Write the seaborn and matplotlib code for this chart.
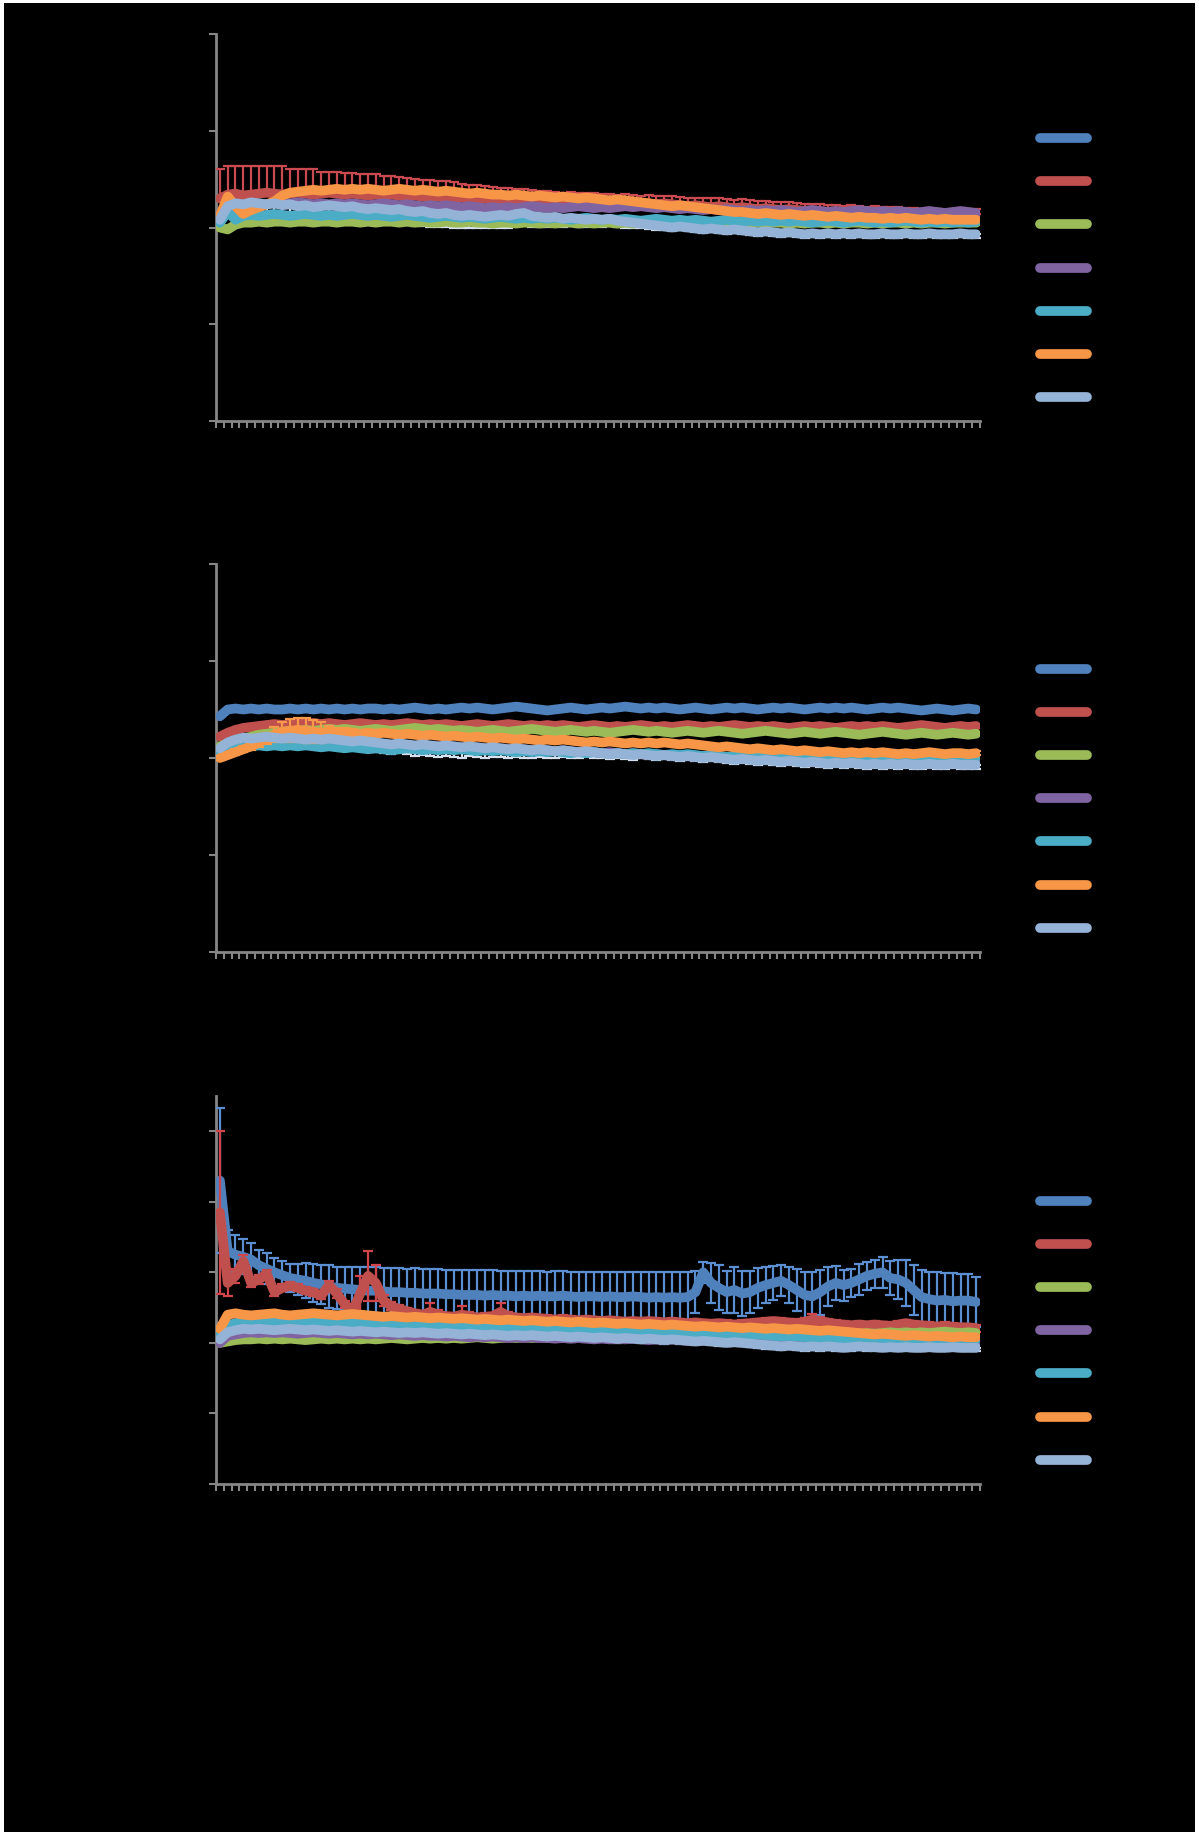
import matplotlib
matplotlib.use('Agg')
import matplotlib.pyplot as plt
from matplotlib.patches import Rectangle
import numpy as np
import seaborn as sns

# values are in hundredths of a y unit
names = ['Series1', 'Series2', 'Series3', 'Series4', 'Series5', 'Series6', 'Series7']
colors = ['#4F81BD', '#C0504D', '#9BBB59', '#8064A2', '#4BACC6', '#F79646', '#95B3D7']

# ---- panel 1 ----
p1_blue = [None] * 98
p1_red = [30, 34, 35, 33, 34, 35, 36, 35, 34, 35, 36, 35, 34, 35,
          36, 35, 34, 35, 34, 33, 34, 33, 34, 33, 32, 33, 32, 31,
          32, 31, 30, 31, 30, 29, 30, 29, 28, 29, 28, 29, 28, 27,
          28, 27, 26, 27, 26, 27, 26, 25, 26, 25, 26, 25, 24, 25,
          24, 25, 24, 23, 22, 23, 22, 21, 22, 21, 20, 21, 20, 19,
          20, 19, 18, 19, 18, 17, 18, 17, 16, 17, 16, 17, 16, 15,
          16, 15, 16, 15, 14, 15, 14, 15, 14, 13, 14, 15, 14, 14]
p1_green = [0, -2, 3, 5, 5, 6, 5, 6, 6, 5, 6, 6, 5, 6,
            6, 5, 6, 6, 5, 6, 5, 6, 6, 5, 6, 5, 6, 5,
            5, 6, 5, 5, 6, 5, 5, 4, 5, 5, 4, 5, 5, 4,
            5, 4, 5, 5, 4, 5, 4, 5, 5, 4, 5, 4, 5, 4,
            5, 5, 4, 5, 4, 5, 5, 4, 5, 4, 5, 5, 4, 5,
            4, 5, 5, 4, 5, 4, 5, 5, 4, 5, 4, 5, 5, 4,
            5, 4, 5, 5, 4, 5, 4, 5, 5, 4, 5, 5, 5, 5]
p1_purple = [14, 18, 20, 22, 23, 24, 24, 25, 24, 25, 26, 25, 24, 25,
             24, 25, 24, 25, 24, 23, 24, 25, 24, 23, 24, 23, 22, 23,
             22, 23, 22, 21, 22, 21, 20, 21, 20, 21, 20, 21, 22, 21,
             20, 21, 20, 21, 22, 21, 20, 21, 20, 21, 22, 21, 22, 21,
             20, 21, 20, 19, 20, 19, 18, 19, 18, 19, 18, 17, 18, 17,
             18, 17, 18, 17, 16, 17, 18, 17, 16, 17, 16, 17, 18, 17,
             16, 17, 16, 17, 16, 15, 16, 17, 16, 15, 16, 17, 16, 15]
p1_teal = [5, 16, 8, 12, 13, 12, 13, 14, 13, 12, 13, 14, 13, 12,
           13, 12, 13, 14, 13, 12, 13, 12, 11, 12, 13, 12, 11, 10,
           11, 12, 11, 10, 11, 10, 9, 10, 11, 10, 9, 10, 9, 10,
           9, 10, 9, 8, 9, 10, 9, 8, 9, 8, 9, 8, 7, 8,
           9, 8, 7, 8, 7, 8, 7, 6, 7, 8, 7, 6, 7, 6,
           7, 6, 7, 6, 7, 6, 5, 6, 7, 6, 5, 6, 7, 6,
           5, 6, 5, 6, 7, 6, 5, 6, 5, 6, 5, 6, 5, 6]
p1_orange = [12, 32, 22, 14, 18, 21, 24, 27, 33, 36, 37, 38, 39, 38,
             39, 40, 39, 40, 39, 40, 39, 38, 39, 40, 39, 38, 39, 38,
             37, 38, 37, 36, 35, 36, 35, 34, 34, 33, 34, 33, 32, 33,
             32, 31, 32, 31, 30, 31, 30, 29, 28, 29, 28, 27, 26, 25,
             24, 23, 22, 23, 22, 21, 20, 19, 18, 17, 16, 16, 15, 14,
             15, 14, 13, 14, 13, 12, 13, 12, 11, 12, 11, 10, 11, 10,
             10, 9, 10, 9, 10, 9, 8, 9, 8, 9, 8, 8, 8, 8]
p1_lightblue = [8, 22, 25, 24, 26, 25, 24, 25, 23, 24, 22, 23, 21, 22,
                23, 22, 21, 22, 20, 19, 20, 19, 18, 19, 17, 16, 17, 15,
                14, 15, 13, 12, 13, 12, 11, 12, 13, 12, 14, 15, 12, 11,
                10, 11, 9, 10, 9, 8, 9, 8, 9, 7, 6, 5, 4, 3,
                2, 1, 0, 1, 0, -1, -2, -1, -2, -3, -2, -3, -4, -5,
                -4, -5, -6, -5, -6, -7, -6, -7, -6, -7, -6, -7, -6, -7,
                -7, -6, -7, -7, -6, -7, -7, -6, -7, -7, -7, -6, -7, -7]
p1_red_err = [30, 30, 29, 31, 30, 29, 28, 29, 30, 25, 24, 25, 26, 22,
              21, 22, 22, 21, 21, 22, 21, 20, 19, 19, 19, 17, 17, 18,
              16, 17, 17, 14, 14, 15, 13, 13, 13, 12, 12, 11, 11, 11,
              10, 10, 10, 10, 10, 9, 10, 10, 9, 9, 9, 9, 9, 9,
              9, 8, 9, 9, 9, 8, 8, 9, 8, 8, 8, 8, 8, 8,
              7, 7, 8, 7, 7, 7, 6, 7, 7, 6, 6, 6, 6, 6,
              6, 6, 5, 6, 6, 5, 5, 5, 5, 5, 5, 5, 5, 5]
p1_lightblue_err = [4, 6, 6, 7, 7, 8, 8, 8, 9, 9, 9, 10, 10, 10,
                    11, 11, 11, 12, 12, 12, 13, 13, 14, 15, 14, 14, 15, 14,
                    13, 14, 13, 12, 13, 12, 11, 12, 13, 12, 12, 12, 11, 10,
                    9, 9, 8, 8, 8, 7, 7, 7, 7, 6, 6, 5, 5, 5,
                    5, 4, 4, 4, 4, 4, 4, 4, 4, 4, 4, 4, 4, 4,
                    4, 4, 4, 4, 4, 4, 4, 4, 4, 4, 4, 4, 4, 4,
                    4, 4, 4, 4, 4, 4, 4, 4, 4, 4, 4, 4, 4, 4]

# ---- panel 2 ----
p2_blue = [43, 50, 51, 50, 51, 50, 51, 50, 50, 51, 50, 51, 50, 51,
           50, 51, 50, 51, 50, 51, 51, 50, 51, 50, 51, 52, 51, 50,
           51, 50, 51, 52, 51, 52, 51, 50, 51, 52, 53, 52, 51, 50,
           49, 50, 51, 52, 51, 50, 51, 52, 51, 52, 53, 52, 51, 52,
           51, 52, 51, 50, 51, 52, 51, 50, 51, 52, 51, 52, 51, 50,
           51, 52, 51, 52, 51, 50, 51, 52, 51, 52, 51, 52, 51, 50,
           51, 52, 51, 52, 51, 50, 49, 50, 51, 50, 49, 50, 51, 50]
p2_red = [22, 26, 29, 31, 32, 33, 34, 35, 34, 35, 36, 35, 36, 35,
          36, 35, 34, 35, 36, 35, 34, 35, 34, 35, 36, 35, 34, 35,
          34, 35, 34, 33, 34, 35, 34, 33, 34, 35, 34, 33, 34, 33,
          34, 33, 34, 33, 32, 33, 34, 33, 32, 33, 32, 33, 34, 33,
          32, 33, 32, 33, 34, 33, 32, 33, 32, 33, 34, 33, 32, 33,
          32, 33, 32, 31, 32, 33, 32, 33, 32, 31, 32, 33, 32, 33,
          32, 33, 32, 31, 32, 33, 34, 33, 32, 31, 32, 33, 32, 33]
p2_green = [12, 15, 18, 20, 22, 24, 25, 26, 27, 28, 28, 29, 28, 29,
            30, 29, 30, 29, 28, 29, 30, 29, 28, 29, 30, 31, 30, 29,
            30, 29, 28, 29, 28, 27, 28, 29, 28, 27, 28, 29, 30, 29,
            28, 27, 28, 29, 28, 27, 28, 27, 26, 27, 28, 29, 28, 27,
            28, 27, 26, 27, 28, 27, 26, 27, 28, 27, 26, 25, 26, 27,
            28, 27, 26, 25, 26, 27, 26, 25, 26, 27, 26, 25, 24, 25,
            26, 27, 26, 25, 24, 25, 26, 25, 24, 25, 26, 25, 24, 25]
p2_purple = [5, 9, 12, 14, 15, 16, 15, 16, 17, 16, 15, 16, 15, 16,
             15, 16, 15, 14, 15, 14, 15, 14, 13, 14, 13, 12, 13, 12,
             12, 11, 12, 11, 10, 11, 10, 9, 10, 9, 10, 9, 8, 9,
             8, 7, 8, 7, 6, 7, 6, 5, 6, 5, 4, 5, 4, 3,
             4, 3, 2, 3, 2, 1, 2, 1, 0, 1, 0, -1, 0, -1,
             -2, -1, -2, -3, -2, -3, -4, -3, -4, -5, -4, -5, -4, -5,
             -5, -4, -5, -6, -5, -6, -5, -6, -5, -6, -5, -6, -6, -5]
p2_teal = [5, 8, 10, 11, 12, 13, 12, 13, 12, 13, 12, 13, 12, 11,
           12, 11, 10, 11, 10, 9, 10, 9, 8, 9, 10, 9, 8, 9,
           8, 9, 8, 9, 8, 7, 8, 7, 8, 7, 6, 7, 6, 7,
           6, 7, 6, 5, 6, 5, 6, 5, 4, 5, 4, 5, 4, 5,
           4, 3, 4, 3, 4, 3, 2, 3, 2, 1, 2, 1, 2, 1,
           1, 2, 1, 0, 1, 0, 1, 0, 1, 0, 1, 0, 1, 0,
           0, 1, 0, 1, 0, 1, 0, 1, 0, 1, 0, 1, 0, 1]
p2_orange = [0, 3, 6, 9, 12, 16, 20, 24, 27, 28, 29, 28, 27, 26,
             27, 26, 27, 26, 25, 26, 25, 26, 25, 24, 25, 24, 23, 24,
             23, 22, 23, 22, 21, 22, 21, 20, 21, 20, 19, 20, 19, 18,
             19, 18, 19, 18, 17, 16, 17, 16, 17, 16, 15, 16, 15, 16,
             15, 16, 15, 14, 15, 14, 13, 12, 11, 12, 11, 10, 9, 10,
             9, 8, 9, 8, 7, 8, 7, 6, 7, 6, 5, 6, 5, 6,
             5, 6, 5, 4, 5, 4, 5, 6, 5, 4, 5, 5, 4, 5]
p2_lightblue = [10, 16, 19, 21, 20, 21, 22, 21, 20, 21, 20, 19, 20, 19,
                20, 19, 18, 17, 18, 17, 16, 15, 14, 15, 14, 13, 14, 13,
                12, 13, 12, 11, 12, 11, 10, 11, 10, 9, 10, 9, 8, 9,
                8, 7, 8, 7, 6, 7, 6, 5, 4, 5, 4, 3, 4, 3,
                2, 3, 2, 1, 2, 1, 0, 1, 0, -1, -2, -1, -2, -3,
                -2, -3, -4, -3, -4, -5, -4, -5, -6, -5, -6, -5, -6, -7,
                -6, -7, -6, -7, -6, -7, -7, -6, -7, -7, -6, -7, -7, -7]
p2_orange_err = [2, 2, 3, 3, 4, 5, 6, 8, 10, 12, 12, 13, 12, 11,
                 6, 5, 4, 4, 3, 3, 3, 3, 3, 3, 3, 3, 3, 3,
                 3, 3, 3, 3, 3, 3, 3, 3, 3, 3, 3, 3, 3, 3,
                 3, 3, 3, 3, 3, 3, 3, 3, 3, 3, 3, 3, 3, 3,
                 2, 2, 2, 2, 2, 2, 2, 2, 2, 2, 2, 2, 2, 2,
                 2, 2, 2, 2, 2, 2, 2, 2, 2, 2, 2, 2, 2, 2,
                 2, 2, 2, 2, 2, 2, 2, 2, 2, 2, 2, 2, 2, 2]
p2_lightblue_err = [4, 5, 5, 6, 6, 6, 7, 7, 7, 8, 8, 8, 8, 8,
                    8, 9, 9, 9, 9, 9, 10, 10, 10, 10, 10, 11, 11, 11,
                    11, 11, 11, 11, 10, 10, 10, 10, 9, 9, 9, 9, 8, 8,
                    8, 7, 7, 7, 6, 6, 6, 5, 5, 5, 5, 5, 4, 4,
                    4, 4, 4, 4, 4, 4, 4, 4, 4, 4, 4, 4, 4, 4,
                    4, 4, 4, 4, 4, 4, 4, 4, 4, 4, 4, 4, 4, 4,
                    4, 4, 4, 4, 4, 4, 4, 4, 4, 4, 4, 4, 4, 4]

# ---- panel 3 ----
p3_blue = [230, 130, 125, 122, 118, 110, 105, 100, 96, 92, 90, 88, 85, 83,
           80, 78, 77, 76, 75, 74, 74, 73, 72, 72, 71, 71, 70, 70,
           70, 69, 69, 68, 68, 68, 67, 68, 67, 67, 66, 67, 66, 67,
           66, 66, 67, 66, 65, 66, 66, 65, 66, 65, 65, 66, 65, 64,
           65, 64, 65, 64, 65, 72, 100, 85, 78, 72, 75, 70, 72, 78,
           82, 85, 88, 82, 75, 68, 66, 72, 80, 85, 82, 85, 90, 95,
           98, 100, 92, 90, 85, 75, 65, 62, 60, 61, 59, 60, 60, 58]
p3_red = [185, 85, 95, 116, 85, 90, 98, 72, 78, 81, 78, 74, 72, 67,
          82, 70, 55, 45, 70, 95, 85, 60, 52, 48, 45, 42, 40, 44,
          40, 38, 37, 40, 38, 36, 37, 38, 44, 38, 36, 35, 36, 35,
          34, 33, 34, 33, 32, 33, 32, 31, 32, 31, 30, 31, 30, 31,
          30, 29, 30, 29, 28, 29, 28, 27, 28, 27, 26, 27, 28, 29,
          30, 31, 30, 29, 28, 30, 33, 31, 29, 27, 26, 25, 26, 25,
          26, 25, 24, 26, 28, 26, 25, 24, 23, 24, 23, 22, 22, 21]
p3_green = [0, 2, 4, 5, 5, 6, 5, 6, 5, 6, 5, 4, 5, 6,
            5, 6, 5, 6, 5, 6, 5, 6, 7, 6, 5, 6, 7, 6,
            7, 6, 7, 6, 7, 8, 7, 6, 7, 8, 7, 8, 7, 8,
            7, 8, 7, 8, 9, 8, 7, 8, 9, 8, 9, 8, 9, 8,
            9, 10, 9, 10, 9, 10, 9, 10, 11, 10, 11, 10, 11, 10,
            11, 12, 11, 12, 11, 12, 13, 12, 13, 12, 13, 14, 13, 14,
            13, 14, 15, 14, 15, 14, 15, 14, 15, 16, 15, 14, 15, 14]
p3_purple = [0, 10, 12, 14, 15, 14, 15, 14, 15, 14, 13, 14, 15, 14,
             13, 14, 13, 12, 13, 12, 13, 12, 11, 12, 11, 10, 11, 10,
             10, 9, 10, 9, 8, 9, 8, 9, 8, 7, 8, 7, 8, 7,
             7, 6, 7, 6, 7, 6, 5, 6, 5, 6, 5, 6, 5, 4,
             5, 4, 5, 4, 3, 4, 3, 4, 3, 2, 3, 2, 3, 2,
             2, 3, 2, 1, 2, 1, 2, 1, 2, 1, 0, 1, 0, 1,
             1, 0, 1, 0, 1, 0, 1, 0, 1, 0, 1, 0, 1, 0]
p3_teal = [10, 25, 28, 30, 29, 30, 31, 30, 29, 30, 31, 30, 29, 30,
           29, 30, 29, 28, 29, 28, 27, 28, 27, 26, 27, 26, 25, 26,
           25, 24, 25, 24, 23, 24, 23, 22, 23, 22, 21, 22, 21, 20,
           21, 20, 19, 20, 19, 18, 19, 18, 17, 18, 17, 16, 17, 16,
           15, 16, 15, 14, 15, 14, 13, 12, 13, 12, 11, 10, 11, 12,
           11, 10, 9, 10, 9, 8, 7, 6, 5, 6, 5, 6, 5, 6,
           5, 6, 5, 6, 5, 6, 5, 6, 5, 4, 5, 6, 5, 5]
p3_orange = [20, 40, 42, 40, 39, 40, 41, 42, 40, 39, 40, 41, 42, 41,
             40, 39, 40, 41, 40, 39, 38, 37, 38, 37, 36, 37, 36, 35,
             36, 35, 34, 35, 34, 33, 34, 33, 32, 33, 32, 31, 32, 31,
             30, 31, 30, 29, 30, 29, 28, 29, 28, 27, 28, 27, 26, 27,
             26, 25, 26, 25, 24, 23, 24, 23, 22, 23, 22, 21, 22, 21,
             20, 21, 20, 19, 20, 19, 18, 17, 18, 17, 16, 15, 14, 13,
             12, 13, 12, 11, 10, 11, 10, 9, 10, 9, 8, 9, 8, 8]
p3_lightblue = [5, 15, 18, 20, 19, 20, 19, 18, 19, 20, 19, 18, 19, 18,
                17, 18, 17, 16, 17, 16, 15, 16, 15, 14, 15, 14, 15, 14,
                13, 14, 13, 12, 13, 12, 11, 12, 11, 10, 11, 10, 11, 10,
                9, 10, 9, 8, 9, 8, 7, 8, 7, 6, 7, 6, 5, 6,
                5, 4, 5, 4, 3, 2, 3, 2, 1, 0, 1, 0, -1, -2,
                -3, -4, -5, -4, -5, -6, -5, -6, -5, -6, -7, -6, -5, -6,
                -6, -7, -6, -7, -6, -7, -7, -6, -7, -7, -6, -7, -7, -7]
p3_blue_err = [103, 30, 28, 25, 24, 22, 22, 20, 20, 20, 22, 25, 27, 28,
               30, 30, 31, 32, 32, 33, 33, 33, 34, 34, 34, 35, 35, 35,
               35, 35, 35, 35, 35, 35, 36, 35, 35, 35, 36, 35, 36, 35,
               35, 36, 35, 35, 36, 35, 35, 36, 35, 35, 36, 35, 36, 36,
               35, 36, 35, 36, 35, 30, 15, 28, 32, 30, 33, 32, 30, 28,
               25, 24, 22, 26, 30, 33, 35, 32, 28, 24, 22, 20, 22, 20,
               20, 22, 24, 28, 32, 36, 38, 38, 40, 38, 40, 38, 38, 36]
p3_red_err = [115, 18, 10, 8, 6, 6, 6, 5, 5, 5, 5, 5, 5, 5,
              6, 6, 5, 6, 25, 35, 25, 8, 6, 6, 5, 5, 5, 12,
              6, 5, 5, 12, 6, 5, 5, 5, 12, 6, 5, 5, 5, 5,
              5, 5, 5, 5, 5, 5, 5, 5, 5, 5, 5, 5, 5, 5,
              5, 5, 5, 5, 5, 5, 5, 5, 5, 5, 5, 5, 5, 5,
              5, 5, 5, 5, 6, 6, 8, 6, 5, 5, 5, 5, 5, 5,
              5, 5, 5, 5, 5, 5, 5, 5, 5, 5, 5, 5, 5, 5]
p3_lightblue_err = [4, 6, 7, 8, 8, 8, 8, 9, 9, 9, 9, 9, 9, 9,
                    9, 9, 9, 9, 9, 9, 9, 9, 9, 9, 9, 9, 9, 9,
                    9, 9, 9, 9, 8, 8, 8, 8, 8, 8, 8, 8, 8, 8,
                    7, 7, 7, 7, 7, 7, 6, 6, 6, 6, 6, 5, 5, 5,
                    5, 5, 5, 5, 5, 5, 5, 5, 5, 5, 5, 5, 5, 5,
                    5, 5, 5, 5, 5, 5, 5, 5, 5, 5, 5, 5, 5, 5,
                    5, 5, 5, 5, 5, 5, 5, 5, 5, 5, 5, 5, 5, 5]

N = 98
LB_ERR = '#D6E0EE'
panels = [
    dict(series=[p1_blue, p1_red, p1_green, p1_purple, p1_teal, p1_orange, p1_lightblue],
         errs={1: (p1_red_err, 'up', '#C94A50'), 6: (p1_lightblue_err, 'down', LB_ERR)},
         ylim=(-2, 2), ticks=[-2, -1, 0, 1, 2]),
    dict(series=[p2_blue, p2_red, p2_green, p2_purple, p2_teal, p2_orange, p2_lightblue],
         errs={5: (p2_orange_err, 'both', '#F59A4A'), 6: (p2_lightblue_err, 'down', LB_ERR)},
         ylim=(-2, 2), ticks=[-2, -1, 0, 1, 2]),
    dict(series=[p3_blue, p3_red, p3_green, p3_purple, p3_teal, p3_orange, p3_lightblue],
         errs={0: (p3_blue_err, 'both', '#5B8FD2'), 1: (p3_red_err, 'both', '#D2454C'),
               6: (p3_lightblue_err, 'down', LB_ERR)},
         ylim=(-2, 3.5), ticks=[-2, -1, 0, 1, 2, 3]),
]

sns.set_style('white', {'axes.facecolor': 'black', 'figure.facecolor': 'white'})
AXIS = '#868686'
LW = 7

fig = plt.figure(figsize=(11.99, 18.33), dpi=100)
fig.patches.append(Rectangle((4 / 1199, 0), 1191 / 1199, 1 - 4 / 1833,
                             transform=fig.transFigure, facecolor='black',
                             edgecolor='none', zorder=-10))

# axes boxes in pixels (top, bottom)
boxes = [(35, 422), (565, 953), (1097, 1485)]
x = np.arange(N)

for panel, (top, bottom) in zip(panels, boxes):
    ax = fig.add_axes([216 / 1199, 1 - bottom / 1833, 764 / 1199, (bottom - top) / 1833])
    ax.set_facecolor('black')
    for k, (vals, name, col) in enumerate(zip(panel['series'], names, colors)):
        z = 3 + k * 0.1
        if vals[0] is not None:
            y = np.array(vals, dtype=float) / 100
            assert len(y) == N
            sns.lineplot(x=x, y=y, color=col, lw=LW, label=name, ax=ax, zorder=z,
                         solid_capstyle='round', solid_joinstyle='round')
        else:
            # series present in legend only
            sns.lineplot(x=x[:1], y=[np.nan], color=col, lw=LW, label=name, ax=ax,
                         solid_capstyle='round')
        if k in panel['errs']:
            err, mode, ecol = panel['errs'][k]
            e = np.array(err, dtype=float) / 100
            assert len(e) == N
            if mode == 'up':
                yerr = [np.zeros(N), e]
            elif mode == 'down':
                yerr = [e, np.zeros(N)]
            else:
                yerr = e
            ez = 2.5 if mode == 'down' else z - 0.05
            ax.errorbar(x, y, yerr=yerr, fmt='none', ecolor=ecol, elinewidth=1.6,
                        capsize=3.5, capthick=1.6, zorder=ez)

    ax.set_xlim(-0.5, N - 0.5)
    ax.set_ylim(*panel['ylim'])
    ax.set_yticks(panel['ticks'])
    ax.set_xticks(np.arange(N + 1) - 0.5)
    ax.set_xticklabels([])
    ax.tick_params(axis='y', colors=AXIS, labelcolor='black', length=5, width=1.5,
                   direction='out', left=True)
    ax.tick_params(axis='x', colors=AXIS, length=5, width=1.5, direction='out', bottom=True)
    ax.set_xlabel('')
    ax.set_ylabel('')
    for side in ['top', 'right']:
        ax.spines[side].set_visible(False)
    for side in ['left', 'bottom']:
        ax.spines[side].set_color(AXIS)
        ax.spines[side].set_linewidth(2)
    ax.legend(loc='center left', bbox_to_anchor=(1.0785, 0.394), frameon=False,
              fontsize=10, handlelength=3.4, labelspacing=2.1, borderpad=0,
              borderaxespad=0, labelcolor='black')

fig.savefig('out.png', dpi=100, facecolor='white')
